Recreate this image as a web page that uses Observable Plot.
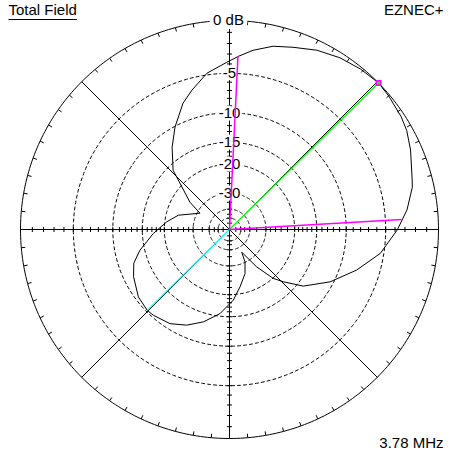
<!DOCTYPE html>
<html><head><meta charset="utf-8">
<script src="https://cdn.jsdelivr.net/npm/d3@7"></script>
<script src="https://cdn.jsdelivr.net/npm/@observablehq/plot@0.6"></script>
<style>
body{margin:0;background:#fff;}
#chart svg{display:block;background:#fff;}
</style>
</head><body><div id="chart"></div>
<script>
// Azimuth pattern (degrees CCW from east) and total-field gain (dB, relative to max)
const azimuth = [0, 3.5, 6.3, 13, 15.2, 23.7, 29.2, 33.3, 40, 44.5, 50.7, 57.2, 64, 70.8, 76.6, 82.5, 86.9, 90.9, 98.2, 105.1, 110.2, 118, 124.9, 133.6, 136.9, 145.4, 151.1, 164.4, 173.1, 183, 193, 199.4, 206.2, 216.5, 224.5, 228.4, 237.7, 245.9, 254.2, 263.5, 273.1, 280.4, 289.4, 295.6, 298.3, 306, 311.8, 315.8, 322.5, 332.5, 342.3, 350.9];
const gainDb  = [-3.75, -3.2, -2.7, -1.85, -1.7, -0.95, -0.5, -0.3, -0.1, 0, -0.15, -0.4, -0.8, -1.37, -1.78, -2.49, -3.18, -3.82, -4.81, -6.36, -7.55, -10.1, -12.6, -16.1, -19.3, -25.2, -31.3, -23.5, -20.5, -17.3, -14.1, -12.4, -11.5, -10.5, -10.2, -10.3, -10.8, -11.85, -13.35, -15.5, -18.6, -21.9, -25.7, -30.2, -35.9, -25.9, -19.9, -17.6, -13.9, -10.5, -7.7, -5.42];

// -3 dB beamwidth markers, max gain and back direction
const beamEdgeAz = [3.3, 87.2];
const beamEdgeDb = [-3.3, -3.2];
const maxAz = [44.5];
const maxDb = [0];
const backAz = [224.5];
const backDb = [-10.2];

// Grid
const ringDb = [-5, -10, -15, -20, -30, -40, -50];
const ringLabelDb = [-5, -10, -15, -20, -30];
const ringLabels = ["-5", "-10", "-15", "-20", "-30"];
const axisTickDb = [-1,-2,-3,-4,-5,-6,-7,-8,-9,-10,-11,-12,-13,-14,-15,-16,-17,-18,-19,-20,-22,-24,-26,-28,-30,-35,-40,-45,-50,-60];
const outerTickStepDeg = 5;

// Texts
const titleText = "Total Field";
const programText = "EZNEC+";
const freqText = "3.78 MHz";
const refText = "0 dB";

// ARRL log scale: 0.89 per 2 dB
const rho = db => Math.pow(0.89, -db / 2);
const rad = a => a * Math.PI / 180;
const toXY = (az, db) => ({x: rho(db) * Math.cos(rad(az)), y: rho(db) * Math.sin(rad(az))});

const pattern = azimuth.map((a, i) => toXY(a, gainDb[i]));
const ringPts = ringDb.flatMap(db => d3.range(0, 361, 1).map(a => ({...toXY(a, db), ring: db})));
const outerPts = d3.range(0, 361, 1).map(a => toXY(a, 0));
const RPX = 209;
const tickIn = 4 / RPX;
const outerTicks = d3.range(0, 360, outerTickStepDeg).map(a => ({
  x1: Math.cos(rad(a)), y1: Math.sin(rad(a)),
  x2: (1 - tickIn) * Math.cos(rad(a)), y2: (1 - tickIn) * Math.sin(rad(a))
}));
const h = 2.5 / RPX;
const axisTicks = axisTickDb.flatMap(db => {
  const r = rho(db);
  return [
    {x1: r, y1: -h, x2: r, y2: h},
    {x1: -r, y1: -h, x2: -r, y2: h},
    {x1: -h, y1: r, x2: h, y2: r},
    {x1: -h, y1: -r, x2: h, y2: -r}
  ];
});
const spokes = [0, 90, 45, 135].map(a => {
  const p = toXY(a, 0), q = toXY(a + 180, 0);
  return {x1: p.x, y1: p.y, x2: q.x, y2: q.y, diag: a % 90 !== 0};
});
const seg = (a, db) => { const p = toXY(a, db); return {x1: 0, y1: 0, x2: p.x, y2: p.y}; };
const beamLines = beamEdgeAz.map((a, i) => seg(a, beamEdgeDb[i]));
const maxLine = maxAz.map((a, i) => seg(a, maxDb[i]));
const backLine = backAz.map((a, i) => seg(a, backDb[i]));
const maxPt = maxAz.map((a, i) => toXY(a, maxDb[i]));
const ringLab = ringLabelDb.map((db, i) => ({x: 0, y: rho(db), label: ringLabels[i]}));

const font = "Liberation Sans, Arial, sans-serif";

const svg = Plot.plot({
  width: 459,
  height: 462,
  marginLeft: 20,
  marginRight: 21,
  marginTop: 20,
  marginBottom: 24,
  x: {domain: [-1, 1], axis: null},
  y: {domain: [-1, 1], axis: null},
  style: {fontFamily: font, fontSize: "15px", background: "#fff", overflow: "visible"},
  marks: [
    Plot.line(ringPts, {x: "x", y: "y", z: "ring", stroke: "black", strokeWidth: 1, strokeDasharray: "3,3"}),
    Plot.link(spokes, {x1: "x1", y1: "y1", x2: "x2", y2: "y2", stroke: "black", strokeWidth: 1}),
    Plot.link(axisTicks, {x1: "x1", y1: "y1", x2: "x2", y2: "y2", stroke: "black", strokeWidth: 1}),
    Plot.line(outerPts, {x: "x", y: "y", stroke: "black", strokeWidth: 1}),
    Plot.link(outerTicks, {x1: "x1", y1: "y1", x2: "x2", y2: "y2", stroke: "black", strokeWidth: 1}),
    Plot.text(ringLab, {x: "x", y: "y", text: "label", fill: "black", stroke: "white", strokeWidth: 5, fontSize: 15, textAnchor: "middle", lineAnchor: "middle"}),
    Plot.line(pattern, {x: "x", y: "y", curve: "linear-closed", stroke: "black", strokeWidth: 1}),
    Plot.link(backLine, {x1: "x1", y1: "y1", x2: "x2", y2: "y2", stroke: "#00ffff", strokeWidth: 1.3}),
    Plot.link(maxLine, {x1: "x1", y1: "y1", x2: "x2", y2: "y2", stroke: "#00ff00", strokeWidth: 1.3}),
    Plot.link(beamLines, {x1: "x1", y1: "y1", x2: "x2", y2: "y2", stroke: "#ff00ff", strokeWidth: 1.5}),
    Plot.dot(maxPt, {x: "x", y: "y", symbol: "square", r: 2.5, stroke: "#ff00ff", strokeWidth: 1.5, fill: "#00ff00"}),
    Plot.text([refText], {frameAnchor: "top", text: d => d, dx: -1, dy: 0, fill: "black", stroke: "white", strokeWidth: 8, fontSize: 15, lineAnchor: "middle"}),
    Plot.text([titleText], {frameAnchor: "top-left", text: d => d, dx: -12, dy: -10, textAnchor: "start", fill: "black", fontSize: 15, lineAnchor: "middle"}),
    Plot.text([programText], {frameAnchor: "top-right", text: d => d, dx: 5, dy: -10, textAnchor: "end", fill: "black", fontSize: 15, lineAnchor: "middle"}),
    Plot.text([freqText], {frameAnchor: "bottom-right", text: d => d, dx: 5, dy: 5, textAnchor: "end", fill: "black", fontSize: 15, lineAnchor: "middle"})
  ]
});
document.getElementById("chart").appendChild(svg);
const sel = d3.select(svg);
sel.selectAll("text").attr("paint-order", "stroke");
sel.selectAll("text").filter(function(){ return this.textContent === titleText; }).each(function(){
  const b = this.getBBox();
  const m = this.getCTM();
  const svgM = svg.getScreenCTM ? svg.getCTM() : null;
  // convert local bbox to svg root coordinates
  const pt1 = svg.createSVGPoint(); pt1.x = b.x; pt1.y = b.y + b.height;
  const pt2 = svg.createSVGPoint(); pt2.x = b.x + b.width; pt2.y = b.y + b.height;
  const t = this.getCTM().multiply(svg.getCTM().inverse());
  const p1 = pt1.matrixTransform(this.getCTM()), p2 = pt2.matrixTransform(this.getCTM());
  const inv = svg.getCTM().inverse();
  const q1 = p1.matrixTransform(inv), q2 = p2.matrixTransform(inv);
  const yy = Math.round(q1.y) + 1.5;
  sel.append("line")
    .attr("x1", q1.x).attr("x2", q2.x)
    .attr("y1", yy).attr("y2", yy)
    .attr("stroke", "black").attr("stroke-width", 1);
});
</script>
</body></html>
